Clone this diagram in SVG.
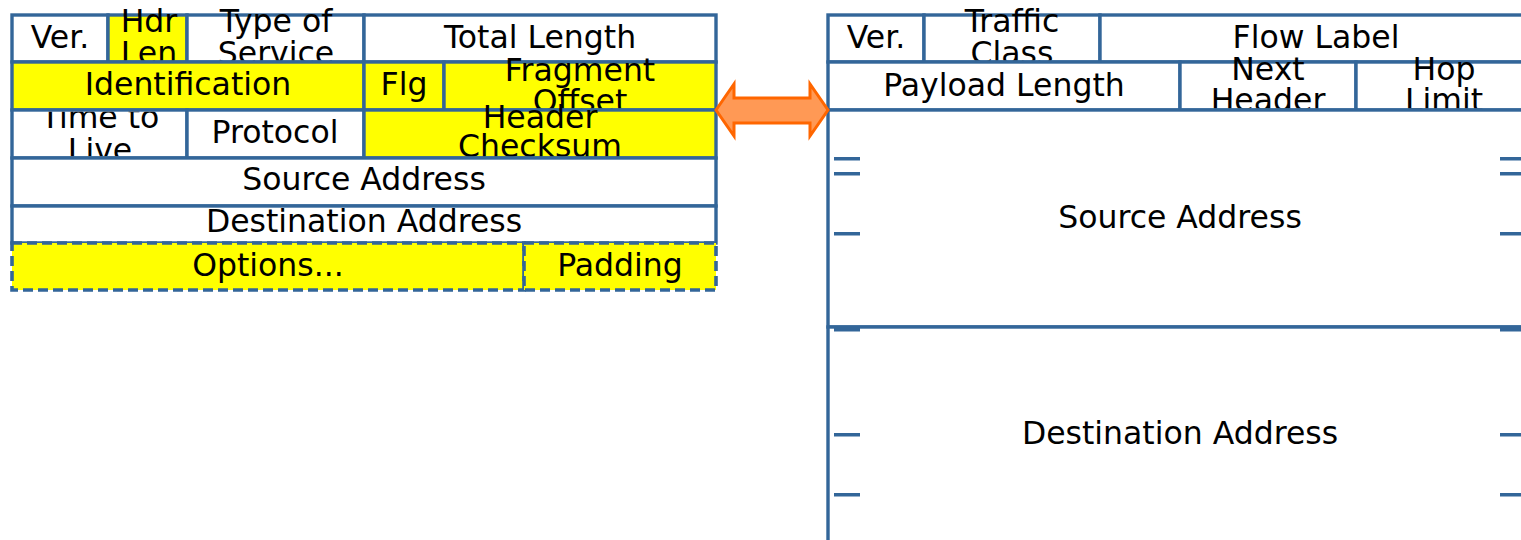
<svg xmlns="http://www.w3.org/2000/svg" width="1521" height="540" viewBox="0 0 1521 540">
<style>
.w{fill:#ffffff;stroke:#336699;stroke-width:3.4}
.y{fill:#ffff00;stroke:#336699;stroke-width:3.4}
.yd{fill:#ffff00;stroke:#336699;stroke-width:3.6;stroke-dasharray:10 5}
.t{font-family:"DejaVu Sans",Verdana,sans-serif;font-size:31.5px;fill:#000;text-anchor:middle}
.tick{fill:#336699}
.arrow{fill:#ff9955;stroke:#ff6600;stroke-width:3;stroke-linejoin:miter}
</style>
<rect width="1521" height="540" fill="#ffffff"/>
<g id="ipv4">
<g id="v4-ver"><rect class="w" x="12" y="15" width="96" height="47"/><text class="t" x="60" y="48">Ver.</text></g>
<g id="v4-hdrlen"><rect class="y" x="108" y="15" width="79" height="47"/><svg x="109.5" y="0" width="76" height="60.5" viewBox="109.5 0 76 60.5"><text class="t" x="149" y="31.5">Hdr</text><text class="t" x="149" y="64">Len</text></svg></g>
<g id="v4-tos"><rect class="w" x="187" y="15" width="177" height="47"/><svg x="188.5" y="0" width="174" height="60.5" viewBox="188.5 0 174 60.5"><text class="t" x="276" y="32">Type of</text><text class="t" x="276" y="64">Service</text></svg></g>
<g id="v4-totlen"><rect class="w" x="364" y="15" width="352" height="47"/><text class="t" x="540" y="48">Total Length</text></g>
<g id="v4-ident"><rect class="y" x="12" y="62" width="352" height="48"/><text class="t" x="188" y="95">Identification</text></g>
<g id="v4-flg"><rect class="y" x="364" y="62" width="80" height="48"/><text class="t" x="404" y="95">Flg</text></g>
<g id="v4-fragoff"><rect class="y" x="444" y="62" width="272" height="48"/><svg x="445.5" y="50" width="269" height="58.5" viewBox="445.5 50 269 58.5"><text class="t" x="580" y="80.5">Fragment</text><text class="t" x="580" y="111.5">Offset</text></svg></g>
<g id="v4-ttl"><rect class="w" x="12" y="110" width="175" height="48"/><svg x="13.5" y="111.7" width="172" height="44.6" viewBox="13.5 111.7 172 44.6"><text class="t" x="100" y="128">Time to</text><text class="t" x="100" y="161">Live</text></svg></g>
<g id="v4-proto"><rect class="w" x="187" y="110" width="177" height="48"/><text class="t" x="275" y="143">Protocol</text></g>
<g id="v4-cksum"><rect class="y" x="364" y="110" width="352" height="48"/><svg x="365.5" y="100" width="349" height="56.5" viewBox="365.5 100 349 56.5"><text class="t" x="540" y="128">Header</text><text class="t" x="540" y="156.5">Checksum</text></svg></g>
<g id="v4-src"><rect class="w" x="12" y="158" width="704" height="48"/><text class="t" x="364" y="190">Source Address</text></g>
<g id="v4-dst"><rect class="w" x="12" y="206" width="704" height="37"/><text class="t" x="364" y="232">Destination Address</text></g>
<g id="v4-options"><rect class="yd" x="12" y="243" width="512" height="47"/><text class="t" x="268" y="276">Options...</text></g>
<g id="v4-padding"><rect class="yd" x="524" y="243" width="192" height="47"/><text class="t" x="620" y="276">Padding</text></g>
</g>
<g id="ipv6">
<g id="v6-ver"><rect class="w" x="828" y="15" width="96" height="47"/><text class="t" x="876" y="48">Ver.</text></g>
<g id="v6-tclass"><rect class="w" x="924" y="15" width="176" height="47"/><svg x="925.5" y="0" width="173" height="60.5" viewBox="925.5 0 173 60.5"><text class="t" x="1012" y="31.5">Traffic</text><text class="t" x="1012" y="64">Class</text></svg></g>
<g id="v6-flow"><rect class="w" x="1100" y="15" width="432" height="47"/><text class="t" x="1316" y="48">Flow Label</text></g>
<g id="v6-paylen"><rect class="w" x="828" y="62" width="352" height="48"/><text class="t" x="1004" y="96">Payload Length</text></g>
<g id="v6-next"><rect class="w" x="1180" y="62" width="176" height="48"/><svg x="1181.5" y="50" width="173" height="58.5" viewBox="1181.5 50 173 58.5"><text class="t" x="1268" y="80">Next</text><text class="t" x="1268" y="111">Header</text></svg></g>
<g id="v6-hop"><rect class="w" x="1356" y="62" width="176" height="48"/><svg x="1357.5" y="50" width="173" height="58.5" viewBox="1357.5 50 173 58.5"><text class="t" x="1444" y="80">Hop</text><text class="t" x="1444" y="111">Limit</text></svg></g>
<g id="v6-src"><rect class="w" x="828" y="110" width="704" height="217"/><text class="t" x="1180" y="228">Source Address</text></g>
<g id="v6-dst"><rect class="w" x="828" y="327" width="704" height="240"/><text class="t" x="1180" y="444">Destination Address</text></g>
<g id="v6-ticks">
<rect class="tick" x="834" y="157" width="26" height="3.5"/>
<rect class="tick" x="834" y="172" width="26" height="3.5"/>
<rect class="tick" x="834" y="232" width="26" height="3.5"/>
<rect class="tick" x="834" y="327.5" width="26" height="4"/>
<rect class="tick" x="834" y="433" width="26" height="3.5"/>
<rect class="tick" x="834" y="493" width="26" height="3.5"/>
<rect class="tick" x="1500" y="157" width="30" height="3.5"/>
<rect class="tick" x="1500" y="172" width="30" height="3.5"/>
<rect class="tick" x="1500" y="232" width="30" height="3.5"/>
<rect class="tick" x="1500" y="327.5" width="30" height="4"/>
<rect class="tick" x="1500" y="433" width="30" height="3.5"/>
<rect class="tick" x="1500" y="493" width="30" height="3.5"/>
</g>
</g>
<g id="connectors">
<polygon class="arrow" points="716,110 734,84 734,98 810,98 810,84 828,110 810,136 810,123 734,123 734,136"/>
</g>
</svg>
